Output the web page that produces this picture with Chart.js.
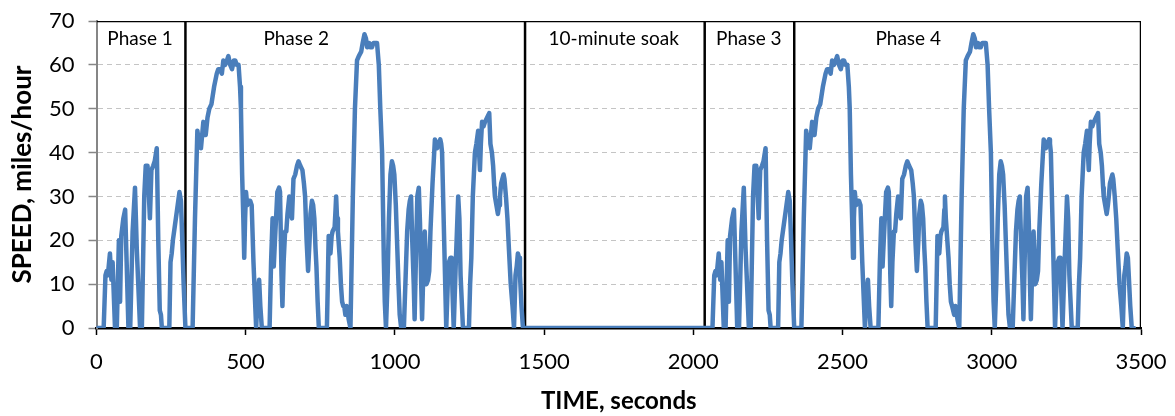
<!DOCTYPE html>
<html>
<head>
<meta charset="utf-8">
<script src="https://cdn.jsdelivr.net/npm/chart.js@4/dist/chart.umd.min.js"></script>
<style>
  body { margin: 0; background: #fff; }
  #wrap { width: 1175px; height: 416px; }
</style>
</head>
<body>
<div id="wrap"><canvas id="speedChart" width="1175" height="416"></canvas></div>
<script>
// Drive cycle data (time in s, speed in mph)
const phase1Time = [0,24,30,34,38,45,50,54,62,68,75,79,83,90,96,101,107,113,121,129,135,146,152,160,165,171,175,179,184,190,195,202,207,212,216,219,244,248,252,256,262,268,278,283,287,292,298];
const phase1Speed = [0,0,12,13,12,17,11,15,0,0,20,6,21,25,27,15,0,0,22,32,18,0,0,30,37,37,31,25,36,37,38,41,20,4,3,0,0,15,17,20,23,26,31,29,21,10,0];

const phase2Time = [
  298,322,330,338,344,350,358,366,372,378,
  385,394,403,408,414,420,425,431,437,442,
  448,454,460,465,470,476,481,484,488,492,
  495,498,501,505,510,515,520,526,535,540,
  545,549,554,580,585,590,594,598,606,612,
  615,620,623,627,632,636,640,646,650,655,
  660,666,672,677,683,690,695,699,704,709,
  714,717,722,726,730,734,737,741,745,772,
  775,778,784,788,791,798,801,803,806,809,
  815,819,823,827,830,834,838,841,845,851,
  855,859,866,873,879,887,892,898,903,907,
  911,914,918,923,928,934,940,946,951,957,
  963,966,970,975,980,985,990,994,998,1003,
  1007,1012,1016,1021,1030,1036,1041,1046,1050,1054,
  1058,1063,1066,1070,1075,1080,1084,1088,1091,1096,
  1100,1103,1106,1111,1115,1119,1126,1134,1138,1141,
  1146,1152,1155,1158,1165,1172,1177,1181,1186,1190,
  1193,1197,1204,1212,1216,1220,1228,1248,1252,1256,
  1261,1268,1273,1279,1282,1285,1288,1292,1297,1302,
  1309,1316,1320,1325,1329,1333,1335,1340,1345,1349,
  1352,1356,1360,1364,1367,1372,1377,1382,1388,1394,
  1399,1404,1408,1412,1416,1419,1424,1429,1436
];
const phase2Speed = [
  0,0,25,45,42,41,47,44,48,50,
  51,55,58,59,59,58,61,60,61,62,
  60,59,61,61,60,60,55,50,35,25,
  16,25,31,28,29,29,28,15,0,8,
  11,5,0,0,15,25,14,20,31,32,
  31,12,5,15,22,22,26,30,27,25,
  34,35,37,38,37,36,33,30,20,13,
  20,26,29,28,25,18,14,6,0,0,
  10,21,17,21,22,23,27,30,25,22,
  16,10,6,5,5,3,5,4,2,0,
  15,30,50,61,62,63,65,67,66,64,
  65,65,64,64,65,65,65,60,50,40,
  15,6,0,10,25,35,38,37,35,28,
  20,10,3,0,0,12,22,27,29,30,
  20,10,2,15,30,32,24,10,2,15,
  22,16,10,11,13,22,33,43,42,41,
  42,43,42,40,20,0,10,15,16,16,
  8,0,15,30,25,12,0,0,10,16,
  30,40,42,45,40,36,42,47,46,47,
  48,49,42,40,37,32,30,28,26,28,
  30,33,34,35,34,30,25,18,10,5,
  0,12,14,17,16,12,5,0,0
];

// Phase 3 and 4 repeat phases 1 and 2 after the soak
const phase3Time = [2040,2064,2070,2074,2078,2085,2090,2094,2102,2108,2115,2119,2123,2130,2136,2141,2147,2153,2161,2169,2175,2186,2192,2200,2205,2211,2215,2219,2224,2230,2235,2242,2247,2252,2256,2259,2284,2288,2292,2296,2302,2308,2318,2323,2327,2332,2338];
const phase3Speed = [0,0,12,13,12,17,11,15,0,0,20,6,21,25,27,15,0,0,22,32,18,0,0,30,37,37,31,25,36,37,38,41,20,4,3,0,0,15,17,20,23,26,31,29,21,10,0];

const phase4Time = [
  2338,2362,2370,2378,2384,2390,2398,2406,2412,2418,
  2425,2434,2443,2448,2454,2460,2465,2471,2477,2482,
  2488,2494,2500,2505,2510,2516,2521,2524,2528,2532,
  2535,2538,2541,2545,2550,2555,2560,2566,2575,2580,
  2585,2589,2594,2620,2625,2630,2634,2638,2646,2652,
  2655,2660,2663,2667,2672,2676,2680,2686,2690,2695,
  2700,2706,2712,2717,2723,2730,2735,2739,2744,2749,
  2754,2757,2762,2766,2770,2774,2777,2781,2785,2812,
  2815,2818,2824,2828,2831,2838,2841,2843,2846,2849,
  2855,2859,2863,2867,2870,2874,2878,2881,2885,2891,
  2895,2899,2906,2913,2919,2927,2932,2938,2943,2947,
  2951,2954,2958,2963,2968,2974,2980,2986,2991,2997,
  3003,3006,3010,3015,3020,3025,3030,3034,3038,3043,
  3047,3052,3056,3061,3070,3076,3081,3086,3090,3094,
  3098,3103,3106,3110,3115,3120,3124,3128,3131,3136,
  3140,3143,3146,3151,3155,3159,3166,3174,3178,3181,
  3186,3192,3195,3198,3205,3212,3217,3221,3226,3230,
  3233,3237,3244,3252,3256,3260,3268,3288,3292,3296,
  3301,3308,3313,3319,3322,3325,3328,3332,3337,3342,
  3349,3356,3360,3365,3369,3373,3375,3380,3385,3389,
  3392,3396,3400,3404,3407,3412,3417,3422,3428,3434,
  3439,3444,3448,3452,3456,3459,3464,3469,3476
];
const phase4Speed = [
  0,0,25,45,42,41,47,44,48,50,
  51,55,58,59,59,58,61,60,61,62,
  60,59,61,61,60,60,55,50,35,25,
  16,25,31,28,29,29,28,15,0,8,
  11,5,0,0,15,25,14,20,31,32,
  31,12,5,15,22,22,26,30,27,25,
  34,35,37,38,37,36,33,30,20,13,
  20,26,29,28,25,18,14,6,0,0,
  10,21,17,21,22,23,27,30,25,22,
  16,10,6,5,5,3,5,4,2,0,
  15,30,50,61,62,63,65,67,66,64,
  65,65,64,64,65,65,65,60,50,40,
  15,6,0,10,25,35,38,37,35,28,
  20,10,3,0,0,12,22,27,29,30,
  20,10,2,15,30,32,24,10,2,15,
  22,16,10,11,13,22,33,43,42,41,
  42,43,42,40,20,0,10,15,16,16,
  8,0,15,30,25,12,0,0,10,16,
  30,40,42,45,40,36,42,47,46,47,
  48,49,42,40,37,32,30,28,26,28,
  30,33,34,35,34,30,25,18,10,5,
  0,12,14,17,16,12,5,0,0
];

// Phase boxes
const phaseEdges = [298, 1436, 2038, 2338];
const phaseNames = ['Phase 1', 'Phase 2', '10-minute soak', 'Phase 3', 'Phase 4'];

// Axis ranges
const timeMax = 3500;
const speedMax = 70;

const FONT = 'Lato, "Open Sans", sans-serif';

// Build line points
const allTime = [...phase1Time, ...phase2Time, ...phase3Time, ...phase4Time];
const allSpeed = [...phase1Speed, ...phase2Speed, ...phase3Speed, ...phase4Speed];
const speedPoints = allTime.map((t, i) => ({x: t, y: allSpeed[i]}));

// Black frame: top edge, right edge and phase separators
const framePoints = [{x: 0, y: speedMax}, {x: timeMax, y: speedMax}, {x: timeMax, y: 0}];
phaseEdges.forEach(t => {
    framePoints.push({x: t, y: null}, {x: t, y: 0}, {x: t, y: speedMax});
});

// Phase names drawn inside each box
const phaseLabels = {
    id: 'phaseLabels',
    afterDatasetsDraw(chart) {
        const {ctx, scales: {x, y}} = chart;
        const centers = [146, 669, 1733, 2186, 2720];
        ctx.save();
        ctx.font = '19px ' + FONT;
        ctx.fillStyle = '#000';
        ctx.textAlign = 'center';
        ctx.textBaseline = 'middle';
        phaseNames.forEach((name, i) => {
            ctx.fillText(name, x.getPixelForValue(centers[i]), y.getPixelForValue(66));
        });
        ctx.restore();
    }
};

const ctx = document.getElementById('speedChart').getContext('2d');
new Chart(ctx, {
    type: 'line',
    data: {
        datasets: [{
            data: speedPoints,
            borderColor: '#4a7ebb',
            borderWidth: 4.5,
            pointRadius: 0,
            tension: 0,
            borderJoinStyle: 'round',
            borderCapStyle: 'round',
            order: 0
        }, {
            data: framePoints,
            borderColor: '#000',
            borderWidth: 2.5,
            pointRadius: 0,
            spanGaps: false,
            order: 1
        }]
    },
    options: {
        responsive: false,
        animation: false,
        layout: { padding: { left: 0, right: 34, top: 21, bottom: 0 } },
        plugins: {
            legend: { display: false },
            tooltip: { enabled: false }
        },
        scales: {
            x: {
                type: 'linear',
                min: 0,
                max: timeMax,
                ticks: { stepSize: 500, color: '#000', font: { family: FONT, size: 22 }, padding: 14, maxRotation: 0, callback: v => String(v) },
                grid: { drawOnChartArea: false, drawTicks: true, tickLength: 7, tickColor: '#000', tickWidth: 1.5 },
                border: { color: '#000', width: 2.5 },
                title: { display: true, text: 'TIME, seconds', color: '#000', font: { family: FONT, size: 24, weight: 'bold' }, padding: { top: 0, bottom: 0 } },
                afterFit: scale => {
                    scale.height = 88;
                    scale.paddingLeft = 0;
                    scale.paddingRight = 0;
                }
            },
            y: {
                min: 0,
                max: speedMax,
                ticks: { stepSize: 10, color: '#000', font: { family: FONT, size: 22 }, padding: 14, callback: v => String(v) },
                grid: {
                    color: c => (c.tick.value === 0 || c.tick.value === speedMax) ? 'rgba(0,0,0,0)' : '#c4c4c4',
                    lineWidth: 1,
                    tickLength: 8,
                    tickColor: '#868686',
                    tickWidth: 1.5
                },
                border: { color: '#868686', width: 2, dash: [5, 4] },
                title: { display: true, text: 'SPEED, miles/hour', color: '#000', font: { family: FONT, size: 26, weight: 'bold' }, padding: { top: 7, bottom: 0 } },
                afterFit: scale => {
                    scale.width = 96.5;
                    scale.paddingTop = 0;
                    scale.paddingBottom = 0;
                }
            }
        }
    },
    plugins: [phaseLabels]
});
</script>
</body>
</html>
